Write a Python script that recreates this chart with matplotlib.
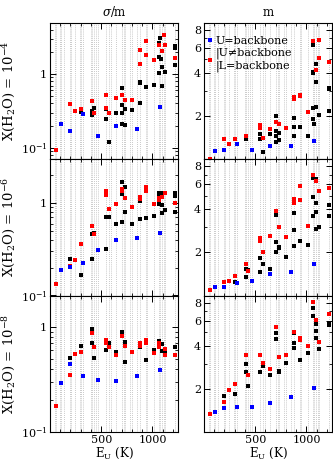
import matplotlib
matplotlib.use("Agg")
import matplotlib.pyplot as plt
from matplotlib.ticker import FixedLocator, FuncFormatter, NullFormatter, MultipleLocator, LogLocator
from matplotlib.lines import Line2D

plt.rcParams["font.family"] = "DejaVu Serif"
plt.rcParams["mathtext.fontset"] = "dejavuserif"

# upper-level energies of the observed lines (dotted guides), K
line_eu = [53, 59, 101, 112, 137, 195, 205, 249, 296, 306, 324, 396, 410, 433, 454,
           469, 549, 576, 599, 644, 703, 725, 733, 782, 797, 845, 879, 935, 952,
           1014, 1068, 1079, 1090, 1114, 1125, 1216]

# X(H2O) = 1e-4, sigma/m
a_k_e = [306, 410, 410, 433, 549, 549, 576, 644, 703, 703, 703, 703, 733, 733, 797, 879, 879, 879,
         935, 1014, 1068, 1068, 1068, 1079, 1085, 1090, 1090, 1125, 1216, 1216, 1216]
a_k_v = [0.31, 0.32, 0.28, 0.35, 0.34, 0.244, 0.119, 0.298, 0.65, 0.38, 0.298, 0.21, 0.204, 0.34,
         0.33, 0.79, 0.75, 0.40, 0.66, 0.71, 2.66, 1.71, 1.05, 3.14, 1.6, 1.25, 0.70, 1.08, 2.44, 2.27, 1.34]
a_r_e = [59, 195, 249, 306, 410, 433, 549, 549, 576, 644, 703, 733, 797, 879, 879, 935, 935,
         1014, 1068, 1090, 1114, 1125, 1216]
a_r_v = [0.092, 0.39, 0.32, 0.34, 0.43, 0.30, 0.515, 0.35, 0.295, 0.48, 0.52, 0.445, 0.449, 2.13,
         1.37, 2.8, 1.82, 1.54, 2.5, 2.04, 3.4, 2.46, 1.66]
a_b_e = [112, 195, 324, 469, 644, 845, 1079]
a_b_v = [0.208, 0.167, 0.29, 0.146, 0.196, 0.182, 0.356]

# X(H2O) = 1e-4, m
b_k_e = [410, 410, 549, 549, 576, 644, 703, 703, 703, 703, 733, 733, 879, 879, 879, 935, 1014,
         1068, 1068, 1068, 1068, 1068, 1072, 1090, 1090, 1090, 1125, 1216, 1216, 1216]
b_k_v = [1.43, 1.38, 1.50, 1.38, 1.13, 1.50, 2.0, 1.56, 1.46, 1.32, 1.52, 1.36, 1.95, 1.68, 1.46,
         1.68, 1.46, 6.3, 4.1, 4.0, 2.28, 1.91, 1.76, 4.6, 3.46, 2.3, 2.04, 3.14, 3.08, 2.18]
b_r_e = [59, 195, 249, 306, 411, 549, 549, 576, 644, 703, 733, 797, 879, 879, 935, 935, 1014,
         1068, 1090, 1125, 1125, 1216]
b_r_v = [1.0, 1.38, 1.28, 1.38, 1.44, 1.74, 1.65, 1.41, 1.63, 1.83, 1.75, 1.64, 2.71, 2.65, 2.82,
         2.75, 2.15, 6.7, 4.17, 6.8, 5.06, 4.76]
b_b_e = [112, 195, 324, 469, 644, 845, 1079]
b_b_v = [1.14, 1.16, 1.28, 1.16, 1.24, 1.24, 1.34]

# X(H2O) = 1e-6, sigma/m
c_k_e = [195, 306, 410, 410, 433, 549, 549, 576, 644, 703, 703, 703, 733, 733, 797, 879, 879, 935,
         1014, 1068, 1068, 1068, 1085, 1090, 1090, 1125, 1216, 1216, 1216]
c_k_v = [0.25, 0.166, 0.466, 0.248, 0.477, 0.71, 0.318, 0.70, 0.59, 1.69, 1.26, 0.63, 1.49, 0.81,
         0.60, 1.05, 0.67, 0.69, 0.73, 1.30, 1.18, 0.98, 1.28, 0.95, 0.78, 0.85, 1.30, 1.21, 0.81]
c_r_e = [59, 195, 249, 306, 410, 433, 549, 549, 576, 644, 703, 703, 733, 797, 879, 879, 935, 935,
         1014, 1068, 1068, 1090, 1125, 1216]
c_r_v = [0.133, 0.208, 0.24, 0.36, 0.56, 0.46, 1.37, 1.23, 0.86, 0.98, 1.43, 1.37, 1.13, 0.90,
         1.18, 1.12, 1.51, 1.34, 0.98, 1.13, 1.07, 1.18, 1.28, 1.01]
c_b_e = [112, 195, 324, 469, 644, 845, 1079]
c_b_v = [0.19, 0.205, 0.224, 0.31, 0.40, 0.42, 0.477]

# X(H2O) = 1e-6, m
d_k_e = [306, 411, 411, 433, 549, 549, 576, 644, 703, 703, 703, 733, 733, 797, 879, 879, 879, 935,
         1014, 1068, 1068, 1068, 1090, 1090, 1090, 1090, 1125, 1216, 1216]
d_k_v = [1.24, 1.53, 1.35, 1.5, 1.84, 1.46, 1.66, 1.54, 3.65, 2.37, 2.01, 2.20, 2.15, 1.87, 3.75,
         2.85, 2.22, 2.40, 2.24, 6.69, 4.91, 3.59, 6.5, 4.45, 3.83, 2.94, 3.0, 4.33, 3.59]
d_r_e = [59, 195, 249, 306, 411, 433, 549, 549, 576, 644, 703, 733, 797, 879, 879, 935, 935, 1014,
         1068, 1090, 1125, 1216]
d_r_v = [1.09, 1.25, 1.26, 1.36, 1.65, 1.49, 2.54, 2.40, 2.01, 2.61, 3.87, 3.02, 2.57, 4.75, 4.45,
         5.83, 4.65, 3.08, 6.97, 6.37, 5.36, 5.69]
d_b_e = [112, 195, 324, 469, 644, 845, 1079]
d_b_v = [1.15, 1.15, 1.23, 1.26, 1.41, 1.46, 1.65]

# X(H2O) = 1e-8, sigma/m
e_k_e = [195, 306, 410, 410, 433, 549, 576, 644, 703, 733, 733, 879, 935, 1014, 1068, 1068, 1090,
         1090, 1125, 1216]
e_k_v = [0.51, 0.66, 0.95, 0.70, 0.51, 0.60, 0.70, 0.58, 0.90, 0.72, 0.46, 0.64, 0.48, 0.61, 0.73,
         0.66, 0.69, 0.59, 0.56, 0.64]
e_r_e = [59, 195, 249, 306, 410, 433, 549, 549, 576, 644, 703, 733, 797, 879, 879, 935, 935, 1014,
         1068, 1068, 1125, 1125, 1216]
e_r_v = [0.177, 0.35, 0.555, 0.58, 0.88, 0.65, 0.76, 0.70, 0.64, 0.545, 0.83, 0.66, 0.58, 0.70,
         0.66, 0.76, 0.70, 0.57, 0.71, 0.65, 0.62, 0.545, 0.545]
e_b_e = [112, 195, 324, 469, 644, 845, 1079]
e_b_v = [0.29, 0.44, 0.34, 0.31, 0.305, 0.34, 0.386]

# X(H2O) = 1e-8, m
f_k_e = [195, 306, 411, 411, 433, 549, 576, 644, 703, 703, 733, 733, 797, 879, 879, 879, 935, 1014,
         1068, 1068, 1090, 1090, 1090, 1125, 1216, 1216]
f_k_v = [1.77, 1.84, 3.0, 2.62, 2.08, 2.62, 2.88, 2.49, 4.9, 4.5, 2.66, 2.62, 3.05, 4.9, 4.17, 3.85,
         3.2, 3.55, 7.32, 6.49, 5.67, 5.04, 4.57, 3.83, 5.77, 5.6]
f_r_e = [59, 195, 249, 306, 411, 433, 549, 576, 644, 703, 733, 797, 879, 935, 935, 1014, 1068, 1090,
         1125, 1216]
f_r_v = [1.34, 1.61, 1.97, 2.18, 3.47, 2.51, 3.47, 3.05, 2.77, 5.43, 3.36, 3.47, 5.0, 4.57, 4.4,
         3.96, 8.07, 6.08, 4.28, 6.64]
f_b_e = [112, 195, 324, 469, 644, 845, 1079]
f_b_v = [1.38, 1.48, 1.50, 1.50, 1.60, 1.76, 2.03]

abund_labels = ["-4", "-6", "-8"]
col_titles = [r"$\sigma$/m", "m"]
left_ylims = [(0.07, 5.0), (0.1, 3.0), (0.1, 2.0)]
right_ylim = (1.0, 9.0)

panels = [
    [(a_k_e, a_k_v, a_r_e, a_r_v, a_b_e, a_b_v), (b_k_e, b_k_v, b_r_e, b_r_v, b_b_e, b_b_v)],
    [(c_k_e, c_k_v, c_r_e, c_r_v, c_b_e, c_b_v), (d_k_e, d_k_v, d_r_e, d_r_v, d_b_e, d_b_v)],
    [(e_k_e, e_k_v, e_r_e, e_r_v, e_b_e, e_b_v), (f_k_e, f_k_v, f_r_e, f_r_v, f_b_e, f_b_v)],
]

W, H = 333.0, 465.0
fig = plt.figure(figsize=(W / 100, H / 100), dpi=100)
col_x = [50 / W, 204 / W]
aw = 128 / W
row_top = 22.7
rh = 136.4


def left_fmt(v, pos):
    if abs(v - 1) < 1e-9:
        return "1"
    if abs(v - 0.1) < 1e-9:
        return r"$10^{-1}$"
    return ""


def x_fmt(v, pos):
    return "" if v == 0 else "%d" % v


for i in range(3):
    for j in range(2):
        bottom_px = row_top + (i + 1) * rh
        ax = fig.add_axes([col_x[j], (H - bottom_px) / H, aw, rh / H])
        ke, kv, re_, rv, be, bv = panels[i][j]
        for e in line_eu:
            ax.axvline(e, color="0.72", ls=(0, (1, 1.5)), lw=0.6, zorder=0)
        ax.plot(ke, kv, "s", color="black", ms=2.8, mew=0, zorder=3)
        ax.plot(re_, rv, "s", color="red", ms=2.8, mew=0, zorder=4)
        ax.plot(be, bv, "s", color="blue", ms=2.8, mew=0, zorder=5)
        ax.set_yscale("log")
        ax.set_xlim(0, 1250)
        ax.xaxis.set_major_locator(MultipleLocator(500))
        ax.xaxis.set_minor_locator(MultipleLocator(100))
        ax.xaxis.set_major_formatter(FuncFormatter(x_fmt))
        if j == 0:
            ax.set_ylim(*left_ylims[i])
            ax.yaxis.set_major_locator(LogLocator(base=10))
            ax.yaxis.set_minor_locator(LogLocator(base=10, subs=range(2, 10)))
            ax.yaxis.set_major_formatter(FuncFormatter(left_fmt))
            ax.yaxis.set_minor_formatter(NullFormatter())
            ax.set_ylabel(r"X(H$_2$O) = 10$^{" + abund_labels[i] + "}$", fontsize=9.5, labelpad=2)
        else:
            ax.set_ylim(*right_ylim)
            ax.yaxis.set_major_locator(FixedLocator([2, 4, 6, 8]))
            ax.yaxis.set_minor_locator(FixedLocator([1, 3, 5, 7, 9]))
            ax.yaxis.set_major_formatter(FuncFormatter(lambda v, p: "%d" % v))
            ax.yaxis.set_minor_formatter(NullFormatter())
        ax.tick_params(which="both", direction="in", top=True, right=True, labelsize=8, pad=2)
        ax.tick_params(which="major", length=4, width=0.7)
        ax.tick_params(which="minor", length=2, width=0.6)
        for s in ax.spines.values():
            s.set_linewidth(0.8)
        if i == 2:
            ax.set_xlabel(r"E$_\mathrm{U}$ (K)", fontsize=8.5, labelpad=1)
        else:
            ax.tick_params(labelbottom=False)
        if i == 0:
            ax.set_title(col_titles[j], fontsize=8.5, pad=5)
        if i == 0 and j == 1:
            handles = [Line2D([], [], ls="", marker="s", color="blue", ms=3.5, mew=0),
                       Line2D([], [], ls="", marker="s", color="red", ms=3.5, mew=0)]
            ax.legend(handles, ["U=backbone", "|U\u2260backbone\n|L=backbone"],
                      loc="upper left", bbox_to_anchor=(0.02, 0.9), frameon=False,
                      fontsize=8, handlelength=0.6, handletextpad=0.2, labelspacing=0.1,
                      borderaxespad=0, borderpad=0)

fig.savefig("out.png", dpi=100)
